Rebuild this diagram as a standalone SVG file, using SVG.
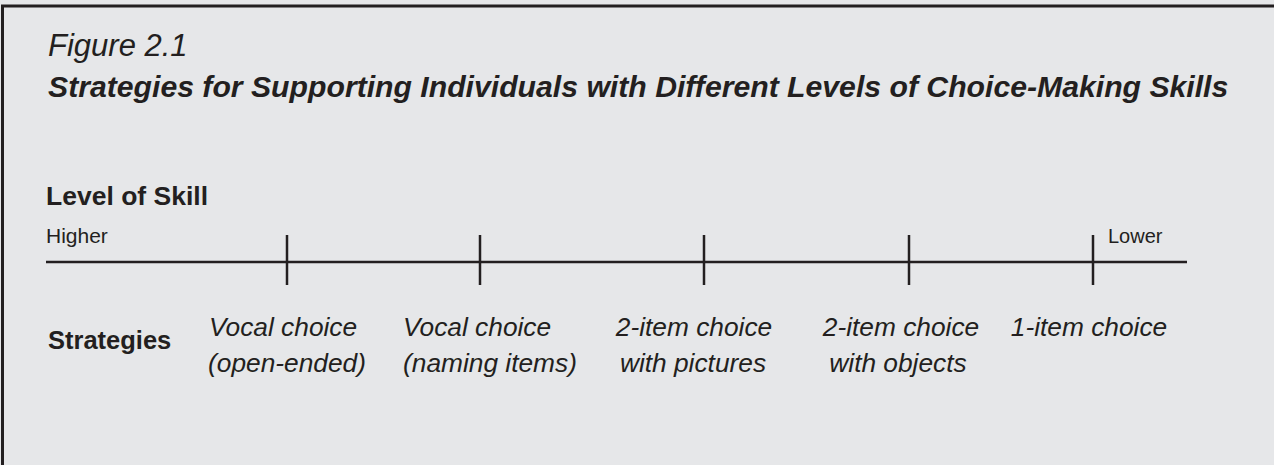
<svg xmlns="http://www.w3.org/2000/svg" width="1274" height="465" viewBox="0 0 1274 465">
<style>
text{font-family:"Liberation Sans",Arial,sans-serif;fill:#231f20}
.it{font-style:italic}
.b{font-weight:bold}
.lab{font-style:italic;font-size:26.3px}
.ln{stroke:#231f20;stroke-width:2.5;fill:none}
</style>
<rect x="0" y="0" width="1274" height="465" fill="#e6e7e9"/>
<path d="M2.5 465 V6 H1274" fill="none" stroke="#231f20" stroke-width="3"/>
<g id="header">
<text x="48" y="56" class="it" font-size="31">Figure 2.1</text>
<text x="48" y="97" class="it b" font-size="30.2">Strategies for Supporting Individuals with Different Levels of Choice-Making Skills</text>
</g>
<g id="axis-labels">
<text x="46" y="205" class="b" font-size="26.5">Level of Skill</text>
<text x="46" y="243" font-size="21">Higher</text>
<text x="1108" y="243" font-size="20">Lower</text>
<text x="48" y="349" class="b" font-size="25.5">Strategies</text>
</g>
<g id="connectors">
<line class="ln" x1="46" y1="262" x2="1187" y2="262"/>
<line class="ln" x1="287" y1="235" x2="287" y2="285"/>
<line class="ln" x1="480" y1="235" x2="480" y2="285"/>
<line class="ln" x1="704" y1="235" x2="704" y2="285"/>
<line class="ln" x1="909" y1="235" x2="909" y2="285"/>
<line class="ln" x1="1093" y1="235" x2="1093" y2="285"/>
</g>
<g id="s1">
<text x="209" y="336" class="lab">Vocal choice</text>
<text x="208" y="372" class="lab">(open-ended)</text>
</g>
<g id="s2">
<text x="403" y="336" class="lab">Vocal choice</text>
<text x="403" y="372" class="lab">(naming items)</text>
</g>
<g id="s3">
<text x="694" y="336" class="lab" text-anchor="middle">2-item choice</text>
<text x="693" y="372" class="lab" text-anchor="middle">with pictures</text>
</g>
<g id="s4">
<text x="901" y="336" class="lab" text-anchor="middle">2-item choice</text>
<text x="898" y="372" class="lab" text-anchor="middle">with objects</text>
</g>
<g id="s5">
<text x="1089" y="336" class="lab" text-anchor="middle">1-item choice</text>
</g>
</svg>
